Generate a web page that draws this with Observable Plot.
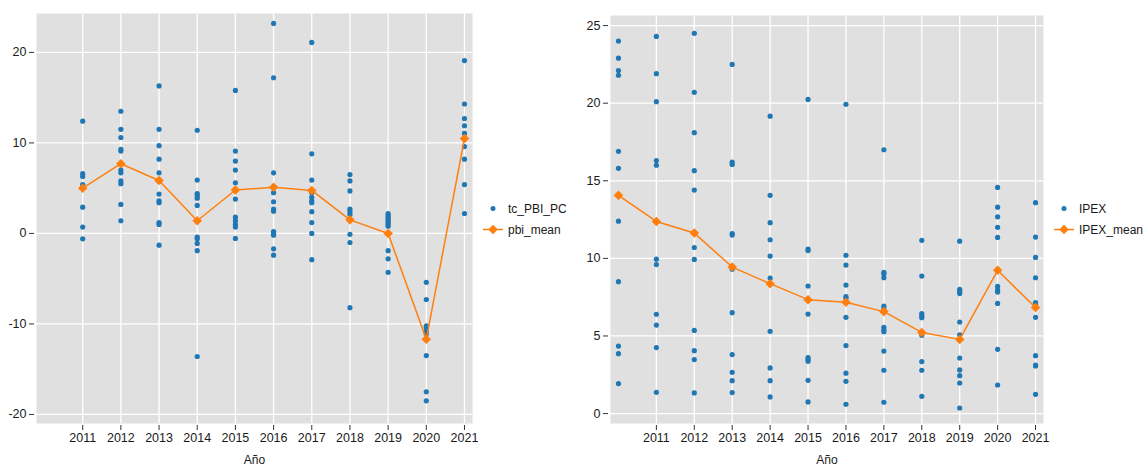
<!DOCTYPE html>
<html>
<head>
<meta charset="utf-8">
<script src="https://cdn.jsdelivr.net/npm/d3@7"></script>
<script src="https://cdn.jsdelivr.net/npm/@observablehq/plot@0.6"></script>
<style>
  body { margin: 0; background: #fff; font-family: "Liberation Sans", Arial, sans-serif; }
  #wrap { position: relative; width: 1148px; height: 468px; overflow: hidden; }
  .panel { position: absolute; top: 0; }
  .legend { position: absolute; font-size: 12px; color: #1a1a1a; font-family: "Liberation Sans", Arial, sans-serif; }
  .legend .row { display: flex; align-items: center; height: 21px; }
  .legend svg { display: block; }
  .legend span { margin-left: 5px; }
</style>
</head>
<body>
<div id="wrap"></div>
<script>
// ---------- data ----------
const xTitle = "Año";
const xTicks = [2011, 2012, 2013, 2014, 2015, 2016, 2017, 2018, 2019, 2020, 2021];

// Left panel: tc_PBI_PC by year, plus pbi_mean
const pbiYears = [2011, 2012, 2013, 2014, 2015, 2016, 2017, 2018, 2019, 2020, 2021];
const pbiPoints = [
  [12.4, 6.6, 6.3, 5.4, 2.9, 0.7, -0.6],
  [13.5, 11.5, 10.6, 9.3, 9.1, 7.7, 7.0, 6.7, 5.8, 5.5, 3.2, 1.4],
  [16.3, 11.5, 9.7, 8.2, 6.7, 5.8, 4.35, 3.6, 3.4, 1.2, 1.0, -1.3],
  [11.4, 5.9, 4.4, 4.2, 3.9, 3.1, 1.4, -0.4, -0.6, -1.1, -1.9, -13.6],
  [15.8, 9.1, 8.0, 7.0, 5.6, 4.8, 3.8, 1.8, 1.4, 1.0, 0.7, -0.55],
  [23.2, 17.2, 6.7, 5.1, 4.5, 3.5, 2.7, 2.45, 0.2, 0.0, -0.2, -1.7, -2.4],
  [21.1, 8.8, 5.9, 4.5, 4.0, 3.6, 3.4, 2.4, 1.2, 0.0, -2.9],
  [6.5, 5.8, 4.7, 2.7, 2.4, 2.1, 1.5, -0.1, -1.0, -8.2],
  [2.2, 2.0, 1.8, 1.6, 1.4, 1.2, 1.0, 0.8, -1.9, -2.8, -4.3],
  [-5.4, -7.3, -10.2, -10.4, -10.75, -11.1, -11.7, -13.5, -17.5, -18.5],
  [19.1, 14.3, 12.7, 11.9, 11.05, 10.5, 9.6, 8.2, 5.4, 2.2]
];
const pbiMean = [5.0, 7.7, 5.85, 1.4, 4.8, 5.1, 4.75, 1.5, 0.0, -11.7, 10.5];
const pbiYTicks = [-20, -10, 0, 10, 20];
const pbiLegend = ["tc_PBI_PC", "pbi_mean"];

// Right panel: IPEX by year, plus IPEX_mean
const ipexYears = [2010, 2011, 2012, 2013, 2014, 2015, 2016, 2017, 2018, 2019, 2020, 2021];
const ipexPoints = [
  [24.0, 22.9, 22.1, 21.8, 16.9, 15.8, 12.4, 8.5, 4.35, 3.86, 1.93],
  [24.3, 21.9, 20.1, 16.3, 16.0, 9.95, 9.6, 6.4, 5.7, 4.25, 1.37],
  [24.5, 20.7, 18.1, 15.65, 14.4, 10.7, 9.93, 5.36, 4.05, 3.48, 1.33],
  [22.5, 16.2, 16.05, 11.6, 11.5, 9.3, 6.5, 3.8, 2.66, 2.12, 1.35],
  [19.16, 14.06, 12.3, 11.2, 10.15, 8.73, 5.3, 2.94, 2.12, 1.07],
  [20.24, 10.6, 10.5, 8.22, 6.41, 3.6, 3.5, 3.37, 2.14, 0.75],
  [19.93, 10.2, 9.57, 8.28, 7.53, 7.43, 6.2, 4.38, 2.6, 2.08, 0.6],
  [17.0, 9.1, 9.0, 8.75, 6.93, 6.8, 5.56, 5.4, 5.28, 4.03, 2.79, 0.73],
  [11.16, 8.86, 6.44, 6.3, 6.18, 5.04, 3.35, 2.79, 1.11],
  [11.11, 8.0, 7.87, 7.73, 5.9, 5.08, 3.58, 2.81, 2.44, 1.97, 0.36],
  [14.57, 13.3, 12.68, 12.0, 11.35, 8.2, 7.97, 7.83, 7.1, 4.14, 1.84],
  [13.59, 11.37, 10.06, 8.75, 7.15, 7.0, 6.2, 3.73, 3.13, 3.07, 1.24]
];
const ipexMean = [14.06, 12.38, 11.63, 9.44, 8.37, 7.34, 7.17, 6.57, 5.23, 4.78, 9.23, 6.83];
const ipexYTicks = [0, 5, 10, 15, 20, 25];
const ipexLegend = ["IPEX", "IPEX_mean"];

// ---------- styles ----------
const BLUE = "#1f77b4";
const ORANGE = "#ff7f0e";
const PANEL = "#e0e0e0";
const FONT = "'Liberation Sans', Arial, sans-serif";

function makePanel({years, points, means, yDomain, yTicks, marginTop, marginRight}) {
  const pts = years.flatMap((yr, i) => points[i].map(v => ({year: yr, value: v})));
  const mean = years.map((yr, i) => ({year: yr, value: means[i]}));
  return Plot.plot({
    width: 574,
    height: 468,
    marginLeft: 36,
    marginRight,
    marginTop,
    marginBottom: 45,
    style: {fontFamily: FONT, fontSize: "12.5px", color: "#1a1a1a", background: "transparent", overflow: "visible"},
    x: {domain: [2009.79, 2021.21]},
    y: {domain: yDomain},
    marks: [
      Plot.frame({fill: PANEL, stroke: null}),
      Plot.gridX(xTicks, {stroke: "#fff", strokeOpacity: 1, strokeWidth: 1.3}),
      Plot.gridY(yTicks, {stroke: "#fff", strokeOpacity: 1, strokeWidth: 1.3}),
      Plot.axisX(xTicks, {tickFormat: d => String(d), tickSize: 5, tickPadding: 3, dy: 2, label: null, stroke: "#333", fill: "#1a1a1a"}),
      Plot.axisY(yTicks, {tickFormat: d => String(d), tickSize: 5, tickPadding: 3, dx: -2, label: null, stroke: "#333", fill: "#1a1a1a"}),
      Plot.dot(pts, {x: "year", y: "value", r: 2.6, fill: BLUE}),
      Plot.line(mean, {x: "year", y: "value", stroke: ORANGE, strokeWidth: 1.5}),
      Plot.dot(mean, {x: "year", y: "value", symbol: "diamond2", r: 4.3, fill: ORANGE}),
      Plot.text([xTitle], {frameAnchor: "bottom", dy: 40, fill: "#1a1a1a", fontSize: 12})
    ]
  });
}

function makeLegend(labels, left, top) {
  const div = document.createElement("div");
  div.className = "legend";
  div.style.left = left + "px";
  div.style.top = top + "px";
  const r1 = document.createElement("div");
  r1.className = "row";
  r1.innerHTML = `<svg width="20" height="21"><circle cx="10" cy="10.5" r="2.5" fill="${BLUE}"/></svg><span>${labels[0]}</span>`;
  const r2 = document.createElement("div");
  r2.className = "row";
  r2.innerHTML = `<svg width="20" height="21"><line x1="0" x2="20" y1="10.5" y2="10.5" stroke="${ORANGE}" stroke-width="1.5"/><path d="M10,5.8L14.7,10.5L10,15.2L5.3,10.5Z" fill="${ORANGE}"/></svg><span>${labels[1]}</span>`;
  div.appendChild(r1);
  div.appendChild(r2);
  return div;
}

const wrap = document.getElementById("wrap");

const left = makePanel({
  years: pbiYears, points: pbiPoints, means: pbiMean,
  yDomain: [-21.0, 24.3], yTicks: pbiYTicks, marginTop: 13, marginRight: 102
});
const lp = document.createElement("div");
lp.className = "panel"; lp.style.left = "0px";
lp.appendChild(left);
wrap.appendChild(lp);

const right = makePanel({
  years: ipexYears, points: ipexPoints, means: ipexMean,
  yDomain: [-0.64, 25.65], yTicks: ipexYTicks, marginTop: 15, marginRight: 105
});
const rp = document.createElement("div");
rp.className = "panel"; rp.style.left = "574px";
rp.appendChild(right);
wrap.appendChild(rp);

wrap.appendChild(makeLegend(pbiLegend, 483, 198));
wrap.appendChild(makeLegend(ipexLegend, 1054, 198));
</script>
</body>
</html>
